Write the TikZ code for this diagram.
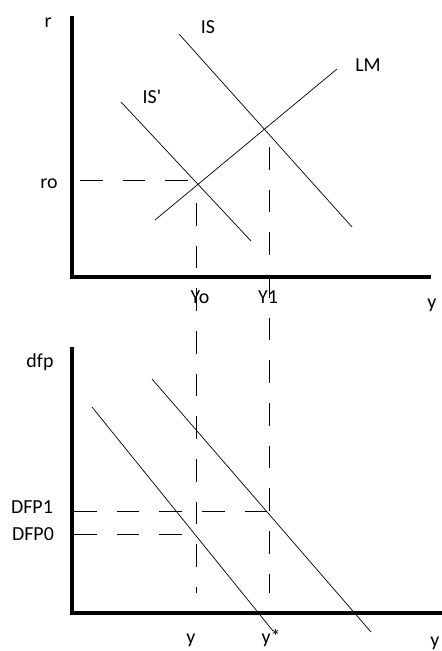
\documentclass[tikz,border=0pt]{standalone}
\usepackage{fontspec}
\setmainfont{Carlito}
\begin{document}
\begin{tikzpicture}
    [x=0.03cm,y=-0.03cm,
     axis/.style={line width=2.6pt,line join=miter},
     curve/.style={line width=0.6pt},
     guide/.style={line width=0.8pt,dash pattern=on 0.68cm off 0.6cm},
     lbl/.style={font=\fontsize{17}{19}\selectfont,inner sep=0pt}]
    \useasboundingbox (0,0) rectangle (441,651);
    %top panel points
    \coordinate (rtop) at (72,16);
    \coordinate (origA) at (72,277);
    \coordinate (yendA) at (431,277);
    \coordinate (isA) at (179,34);
    \coordinate (isB) at (352,227);
    \coordinate (lmA) at (155,220);
    \coordinate (lmB) at (337,69);
    \coordinate (ispA) at (121,102);
    \coordinate (ispB) at (251,241);
    %bottom panel points
    \coordinate (dtop) at (72,347);
    \coordinate (origB) at (72,613);
    \coordinate (yendB) at (443,613);
    \coordinate (dfA) at (92,407);
    \coordinate (dfB) at (273,631);
    \coordinate (dfpA) at (152,379);
    \coordinate (dfpB) at (371,632);
    %axes
    \draw[axis] (rtop) -- (origA) -- (yendA);
    \draw[axis] (dtop) -- (origB) -- (yendB);
    %curves
    \draw[curve] (isA) -- (isB);
    \draw[curve] (lmA) -- (lmB);
    \draw[curve] (ispA) -- (ispB);
    \draw[curve] (dfA) -- (dfB);
    \draw[curve] (dfpA) -- (dfpB);
    %guide lines
    \coordinate (roL) at (80,180);
    \coordinate (roR) at (194,180);
    \coordinate (yoT) at (196,203);
    \coordinate (yoB) at (196,593);
    \coordinate (yaT) at (269,147);
    \coordinate (yaB) at (269,593);
    \coordinate (dfaL) at (74,511);
    \coordinate (dfaR) at (269,511);
    \coordinate (dfoL) at (74,534);
    \coordinate (dfoR) at (196,534);
    \draw[guide] (roL) -- (roR);
    \draw[guide] (yoT) -- (yoB);
    \draw[guide] (yaT) -- (yaB);
    \draw[guide] (dfaL) -- (dfaR);
    \draw[guide] (dfoL) -- (dfoR);
    %labels top
    \node[lbl] (lr) at (48,23) {r};
    \node[lbl] (lis) at (208,27) {IS};
    \node[lbl] (llm) at (368,65) {LM};
    \node[lbl] (lisp) at (152,97) {IS\textquotesingle};
    \node[lbl] (lro) at (49,184) {ro};
    \node[lbl] (lyo) at (200,297) {Yo};
    \node[lbl] (lya) at (268,297) {Y1};
    \node[lbl] (lyA) at (432,305) {y};
    %labels bottom
    \node[lbl] (ldfp) at (40,362) {dfp};
    \node[lbl] (ldfa) at (32,507) {DFP1};
    \node[lbl] (ldfo) at (33,534) {DFP0};
    \node[lbl] (ly) at (191,640) {y};
    \node[lbl] (lys) at (271,638) {y*};
    \node[lbl] (lyB) at (435,643) {y};
\end{tikzpicture}
\end{document}
